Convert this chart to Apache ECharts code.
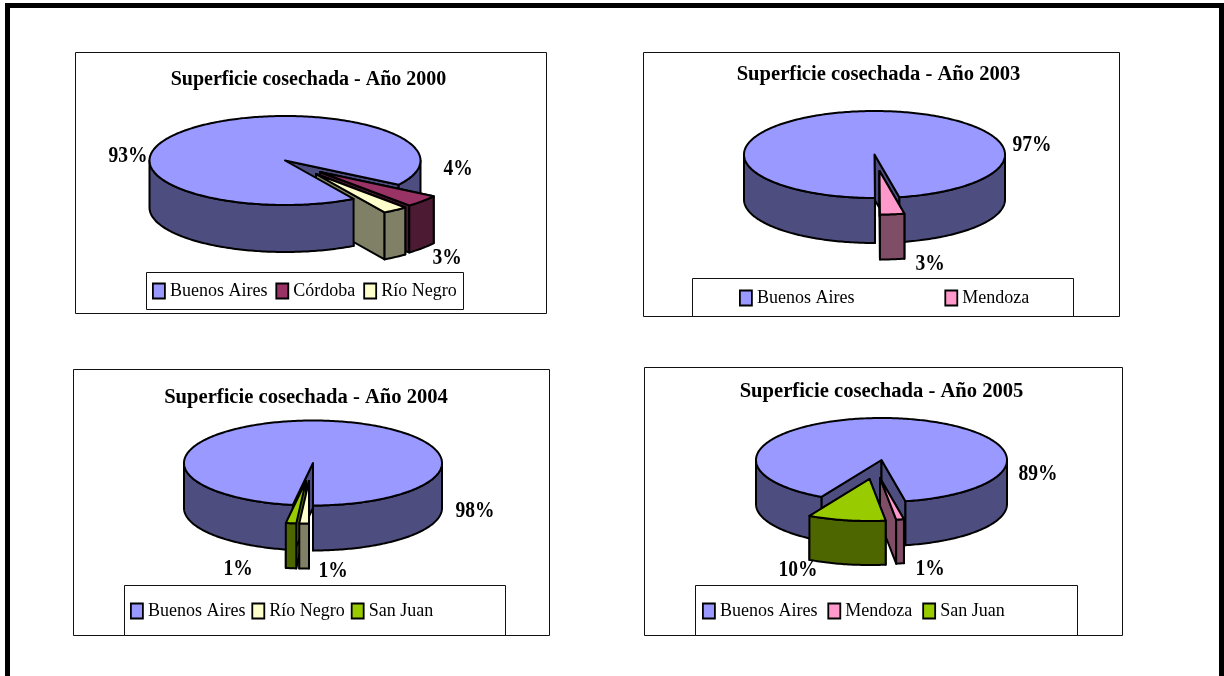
<!DOCTYPE html>
<html><head><meta charset="utf-8">
<style>html,body{margin:0;padding:0;background:#fff}#c{width:1224px;height:676px}</style>
<script src="https://cdn.jsdelivr.net/npm/echarts@6/dist/echarts.min.js"></script>
</head><body><div id="c"></div>
<script>
// ---- data ----
const titles = ['Superficie cosechada - Año 2000','Superficie cosechada - Año 2003','Superficie cosechada - Año 2004','Superficie cosechada - Año 2005'];
const names2000 = ['Buenos Aires','Córdoba','Río Negro'];
const share2000 = [92.6,4.4,3.0];
const names2003 = ['Buenos Aires','Mendoza'];
const share2003 = [97,3];
const names2004 = ['Buenos Aires','Río Negro','San Juan'];
const share2004 = [97.5,1.2,1.3];
const names2005 = ['Buenos Aires','Mendoza','San Juan'];
const share2005 = [89,1,10];

// ---- styles and layout ----
const SERIF = '"Liberation Serif","Times New Roman",serif';
const TOP = {'Buenos Aires':'#9999FF','Córdoba':'#993366','Río Negro':'#FFFFCC','Mendoza':'#FF99CC','San Juan':'#99CC00'};
const WALL = {'Buenos Aires':'#4D4D80','Córdoba':'#4D1A33','Río Negro':'#808066','Mendoza':'#804D66','San Juan':'#4D6600'};
const charts = [
 {names:names2000,share:share2000,frame:[75,52,471,261],legendBox:[146,272,317,37],title:[308.5,80,20],
  cx:285,cy:160.5,rx:135.5,ry:44.5,depth:47,start:59.6,explode:[[0,0],[35,11.5],[31,13.5]],order:[0,1,2],
  labels:[[128,156],[458,169],[447,258]],legend:[152,282,8]},
 {names:names2003,share:share2003,frame:[643,52,476,264],legendBox:[692,278,381,38],title:[878.5,74,20.6],
  cx:874.5,cy:154.5,rx:130.5,ry:43.5,depth:45,start:89.8,explode:[[0,0],[5,16.5]],order:[0,1],
  labels:[[1032,145],[930,264]],legend:[739,289,90]},
 {names:names2004,share:share2004,frame:[73,369,476,266],legendBox:[124,585,381,50],title:[306,397,20.6],
  cx:313,cy:463,rx:129,ry:42.5,depth:45,start:99,explode:[[0,0],[-4,18],[-7,18]],order:[0,2,1],
  labels:[[475,511],[333,571],[238,569]],legend:[130,602,6]},
 {names:names2005,share:share2005,frame:[644,367,478,268],legendBox:[695,585,382,50],title:[881.5,391,20.6],
  cx:881.5,cy:460,rx:125.5,ry:42,depth:44,start:118.6,explode:[[0,0],[-1.5,18],[-12,19]],order:[0,1,2],
  labels:[[1038,474],[930,569],[798,570]],legend:[702,602,10]}
];
const OUTLINE = {stroke:'#000',lineWidth:2,lineJoin:'round'};

function pt(c,ox,oy,deg,dz){const r=deg*Math.PI/180;return [c.cx+ox+c.rx*Math.cos(r),c.cy+oy+c.ry*Math.sin(r)+(dz||0)];}
function arc(c,ox,oy,a,b,dz){const p=[],n=Math.max(2,Math.ceil(Math.abs(b-a)));for(let i=0;i<=n;i++)p.push(pt(c,ox,oy,a+(b-a)*i/n,dz));return p;}
function poly(points,fill){return {type:'polygon',shape:{points},style:Object.assign({fill},OUTLINE)};}
function span(c,i){
  const total=c.share.reduce((s,v)=>s+v,0);
  let a=c.start;
  for(let k=0;k<i;k++)a+=c.share[k]/total*360;
  return [a,a+c.share[i]/total*360];
}
function radial(c,i){
  const [a,b]=span(c,i),[ox,oy]=c.explode[i],w=WALL[c.names[i]];
  const tip=[c.cx+ox,c.cy+oy],tipB=[tip[0],tip[1]+c.depth];
  return [a,b].map(d=>poly([tip,pt(c,ox,oy,d),pt(c,ox,oy,d,c.depth),tipB],w));
}
function curved(c,i,k){
  const [a,b]=span(c,i),[ox,oy]=c.explode[i];
  const lo=Math.max(a,360*k),hi=Math.min(b,180+360*k);
  return hi>lo?[poly(arc(c,ox,oy,lo,hi,0).concat(arc(c,ox,oy,hi,lo,c.depth)),WALL[c.names[i]])]:[];
}
function face(c,i){
  const [a,b]=span(c,i),[ox,oy]=c.explode[i];
  return [poly([[c.cx+ox,c.cy+oy]].concat(arc(c,ox,oy,a,b,0)),TOP[c.names[i]])];
}
function sliceRenderer(c,i){
  return function(params,api){
    let kids=[];
    if(i===0){
      // main slice: hidden inner walls and back wall, then the side walls of the pulled-out
      // slices, then its own front wall and top, which overlap those side walls
      kids=kids.concat(radial(c,0),curved(c,0,1));
      c.names.forEach((n,k)=>{if(k>0)kids=kids.concat(radial(c,k));});
      kids=kids.concat(curved(c,0,0),face(c,0));
    }else{
      kids=kids.concat(curved(c,i,0),curved(c,i,1),face(c,i));
    }
    const l=c.labels[i];
    kids.push({type:'text',x:l[0],y:l[1],scaleY:1.18,z2:50,style:{text:Math.round(api.value(0))+'%',fill:'#000',
      font:'bold 19.5px '+SERIF,align:'center',verticalAlign:'middle'}});
    return {type:'group',children:kids};
  };
}

const series=[], legends=[], titleOpts=[], graphics=[];
graphics.push({type:'rect',silent:true,z:-10,shape:{x:7.5,y:5.5,width:1214,height:700},style:{fill:'#fff',stroke:'#000',lineWidth:5}});
charts.forEach((c,ci)=>{
  graphics.push({type:'rect',silent:true,z:-9,shape:{x:c.frame[0]+.5,y:c.frame[1]+.5,width:c.frame[2],height:c.frame[3]},style:{fill:'#fff',stroke:'#111',lineWidth:1}});
  graphics.push({type:'rect',silent:true,z:-8,shape:{x:c.legendBox[0]+.5,y:c.legendBox[1]+.5,width:c.legendBox[2],height:c.legendBox[3]},style:{fill:'#fff',stroke:'#111',lineWidth:1}});
  titleOpts.push({text:titles[ci],left:c.title[0],top:c.title[1]-10,textAlign:'center',padding:0,
    textStyle:{fontFamily:SERIF,fontWeight:'bold',fontSize:c.title[2],color:'#000'}});
  legends.push({left:c.legend[0],top:c.legend[1],orient:'horizontal',padding:0,itemGap:c.legend[2],itemWidth:12,itemHeight:15,selectedMode:false,
    textStyle:{fontFamily:SERIF,fontSize:18,color:'#000'},
    data:c.names.map(n=>({name:n,icon:'rect',itemStyle:{color:TOP[n],borderColor:'#000',borderWidth:1.8}}))});
  c.order.forEach(i=>{
    const n=c.names[i];
    series.push({type:'custom',name:n,coordinateSystem:'none',silent:true,animation:false,clip:false,
      data:[[c.share[i]]],encode:{value:0},itemStyle:{color:TOP[n]},renderItem:sliceRenderer(c,i)});
  });
});
const chart=echarts.init(document.getElementById('c'),null,{renderer:'canvas'});
chart.setOption({backgroundColor:'#fff',animation:false,title:titleOpts,legend:legends,tooltip:{show:false},graphic:{elements:graphics},series});
</script></body></html>
